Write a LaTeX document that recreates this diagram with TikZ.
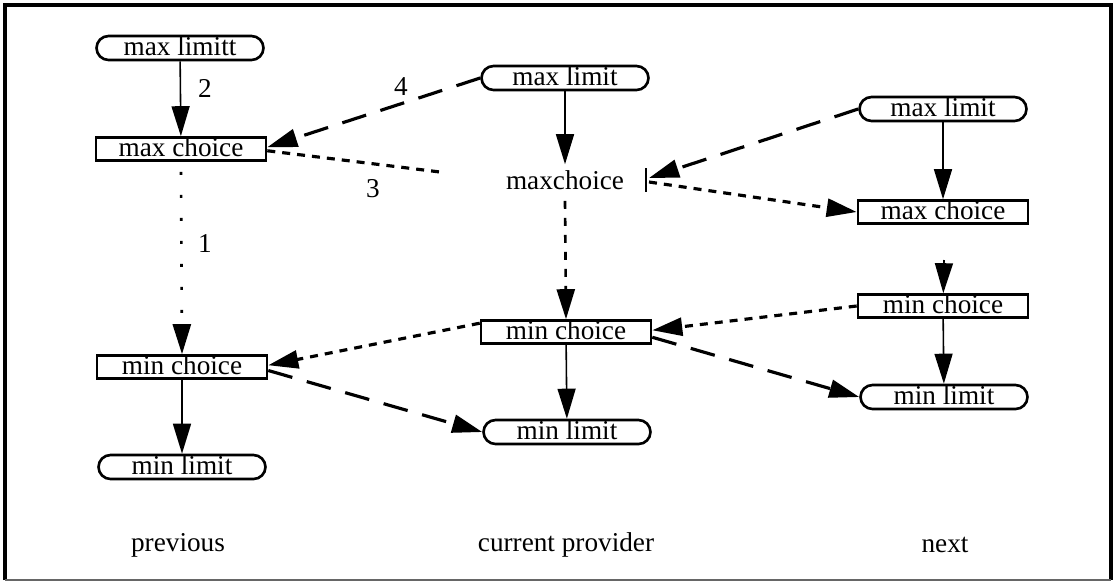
\documentclass[tikz,border=0pt]{standalone}
\usepackage{fontspec}
\setmainfont{Liberation Serif}
\usetikzlibrary{arrows.meta}
\begin{document}
\begin{tikzpicture}[x=0.02cm, y=-0.02cm,
            color=black, font=\fontsize{15.5}{18}\selectfont,
            choice/.style={draw, line width=1.5pt, inner sep=0pt,
                text height=10.5pt, text depth=2pt,
                minimum width=3.4cm, minimum height=0.46cm},
            limit/.style={draw, line width=1.5pt, inner sep=0pt, rounded corners=0.24cm,
                text height=10.5pt, text depth=2pt,
                minimum width=3.34cm, minimum height=0.48cm},
            tip/.style={-{Triangle[length=0.6cm, width=0.36cm]}},
            flow/.style={tip, line width=0.9pt},
            longdash/.style={tip, line width=1.8pt, dash pattern=on 0.5cm off 0.3cm},
            shortdash/.style={line width=1.8pt, dash pattern=on 0.16cm off 0.14cm},
            dotdash/.style={tip, line width=1.5pt, dash pattern=on 0.06cm off 0.4cm}
        ]
            \useasboundingbox (0,0) rectangle (1114,585);

            % frame
            \draw[line width=1.8pt] (5,580) -- (5,5) -- (1111,5) -- (1111,580);
            \draw[line width=1.2pt, color=black!60] (5,580) -- (1111,580);

            % previous
            \node[limit]  (pmaxlim) at (180,48)  {max limitt};
            \node[choice] (pmaxch)  at (181,149) {max choice};
            \node[choice] (pminch)  at (182,367) {min choice};
            \node[limit]  (pminlim) at (182,467) {min limit};

            % current provider
            \node[limit]  (cmaxlim) at (565,78)  {max limit};
            \node         (cmaxch)  at (565,180) {maxchoice};
            \node[choice] (cminch)  at (566,332) {min choice};
            \node[limit]  (cminlim) at (567,432) {min limit};

            % next
            \node[limit]  (nmaxlim) at (943,109) {max limit};
            \node[choice] (nmaxch)  at (943,212) {max choice};
            \node[choice] (nminch)  at (943,306) {min choice};
            \node[limit]  (nminlim) at (944,397) {min limit};

            \node (prev) at (178,545) {previous};
            \node (curr) at (566,545) {current provider};
            \node (next) at (945,545) {next};

            \node (lab1) at (205,244) {1};
            \node (lab2) at (205,88)  {2};
            \node (lab3) at (373,189) {3};
            \node (lab4) at (401,87)  {4};

            \coordinate (ngap)  at (944,260);
            \coordinate (mid3)  at (440,172);
            \coordinate (barT)  at (646,168);
            \coordinate (barB)  at (646,192);
            \coordinate (barIn) at (649,178);
            \coordinate (barOut) at (649,182);

            % solid arrows
            \draw[flow] (pmaxlim) -- (pmaxch);
            \draw[flow] (pminch) -- (pminlim);
            \draw[flow] (cmaxlim) -- (cmaxch);
            \draw[flow] (cminch) -- (cminlim);
            \draw[flow] (nmaxlim) -- (nmaxch);
            \draw[flow] (nminch) -- (nminlim);
            \draw[flow] (ngap) -- (nminch);

            % vertical dotted ones
            \draw[dotdash] ([yshift=-0.2cm]pmaxch.south) -- (pminch.north);
            \draw[tip, line width=1.5pt, dash pattern=on 0.16cm off 0.18cm]
                ([yshift=-0.1cm]cmaxch.south) -- (cminch.north);

            % bar beside maxchoice
            \draw[line width=1.5pt] (barT) -- (barB);

            % long dashes
            \draw[longdash] (cmaxlim.west) -- ([yshift=1pt]pmaxch.east);
            \draw[longdash] (nmaxlim.west) -- (barIn);
            \draw[longdash] ([yshift=-2pt]pminch.east) -- (cminlim.west);
            \draw[longdash] ([yshift=-3pt]cminch.east) -- (nminlim.west);

            % short dashes
            \draw[shortdash] ([yshift=-1pt]pmaxch.east) -- (mid3);
            \draw[shortdash, tip] (barOut) -- (nmaxch.west);
            \draw[shortdash, tip] (nminch.west) -- ([yshift=1pt]cminch.east);
            \draw[shortdash, tip] ([yshift=5pt]cminch.west) -- ([yshift=1pt]pminch.east);
        \end{tikzpicture}
\end{document}
